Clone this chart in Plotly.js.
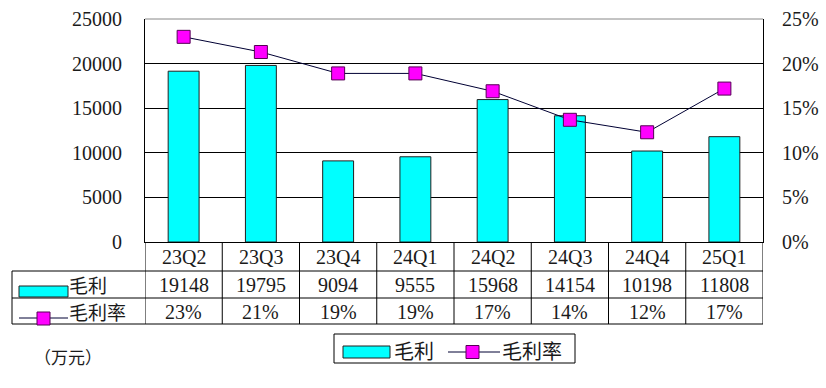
<!DOCTYPE html>
<html>
<head>
<meta charset="utf-8">
<script src="https://cdn.plot.ly/plotly-3.0.1.min.js"></script>
<style>html,body{margin:0;padding:0;background:#fff;}#chart{width:826px;height:388px;}</style>
</head>
<body>
<div id="chart"></div>
<script>
// ---- data ----
const quarters = ["23Q2","23Q3","23Q4","24Q1","24Q2","24Q3","24Q4","25Q1"];
const grossProfit = [19148, 19795, 9094, 9555, 15968, 14154, 10198, 11808];
const grossMarginPct = [23.0, 21.3, 18.9, 18.9, 16.9, 13.7, 12.3, 17.2];
const seriesNames = ["毛利", "毛利率"];
const unitLabel = "（万元）";
const leftTicks = [0, 5000, 10000, 15000, 20000, 25000];
const rightTicks = [0, 5, 10, 15, 20, 25];

// ---- layout helpers ----
const W = 826, H = 388;
const L = 145, R = 763, T = 19, B = 242;
const pw = R - L, ph = B - T;
const px = x => (x - L) / pw;          // pixel x -> paper
const py = y => (B - y) / ph;          // pixel y -> paper

const serif = "Liberation Serif, Times New Roman, Noto Sans CJK SC, serif";
const cjk = "Noto Sans CJK SC, sans-serif";
const txtColor = "#1a1a1a";
const fs = 20;

const traces = [
  {
    type: "bar", name: seriesNames[0], x: quarters, y: grossProfit,
    marker: {color: "#00FFFF", line: {color: "#202020", width: 1}},
    hoverinfo: "x+y"
  },
  {
    type: "scatter", mode: "lines+markers", name: seriesNames[1], x: quarters,
    y: grossMarginPct.map(v => v / 100), yaxis: "y2",
    line: {color: "#000033", width: 1},
    marker: {symbol: "square", size: 13, color: "#FF00FF", line: {color: "#550055", width: 1}}
  }
];

const shapes = [];
const annotations = [];

// top border (gray)
shapes.push({type: "line", xref: "paper", yref: "paper", x0: 0, x1: 1, y0: 1, y1: 1,
  line: {color: "#888888", width: 1}});

// table horizontal lines
const rowLines = [271, 298, 324];
rowLines.forEach(y => shapes.push({type: "line", xref: "paper", yref: "paper",
  x0: px(12), x1: 1, y0: py(y), y1: py(y), line: {color: "#000", width: 1}}));
// table left border
shapes.push({type: "line", xref: "paper", yref: "paper", x0: px(12), x1: px(12),
  y0: py(271), y1: py(324), line: {color: "#000", width: 1}});
// vertical dividers at category boundaries
for (let k = 0; k <= quarters.length; k++) {
  shapes.push({type: "line", xref: "x", yref: "paper", x0: k - 0.5, x1: k - 0.5,
    y0: 0, y1: py(324), line: {color: "#000", width: 1}});
}

// table cells
quarters.forEach((q, i) => {
  annotations.push({xref: "x", yref: "paper", x: q, y: py(257), text: q, showarrow: false,
    xanchor: "center", yanchor: "middle", font: {family: serif, size: fs, color: txtColor}});
  annotations.push({xref: "x", yref: "paper", x: q, y: py(285), text: String(grossProfit[i]), showarrow: false,
    xanchor: "center", yanchor: "middle", font: {family: serif, size: fs, color: txtColor}});
  annotations.push({xref: "x", yref: "paper", x: q, y: py(312), text: Math.round(grossMarginPct[i]) + "%", showarrow: false,
    xanchor: "center", yanchor: "middle", font: {family: serif, size: fs, color: txtColor}});
});

// row headers
shapes.push({type: "rect", xref: "paper", yref: "paper", x0: px(19), x1: px(68), y0: py(286), y1: py(297),
  fillcolor: "#00FFFF", line: {color: "#202020", width: 1}});
annotations.push({xref: "paper", yref: "paper", x: px(67), y: py(284), text: seriesNames[0], showarrow: false,
  xanchor: "left", yanchor: "middle", font: {family: cjk, size: 19, color: txtColor}});
shapes.push({type: "line", xref: "paper", yref: "paper", x0: px(19), x1: px(68), y0: py(318), y1: py(318),
  line: {color: "#000033", width: 1}});
shapes.push({type: "rect", xref: "paper", yref: "paper", x0: px(37), x1: px(50), y0: py(312), y1: py(325),
  fillcolor: "#FF00FF", line: {color: "#550055", width: 1}});
annotations.push({xref: "paper", yref: "paper", x: px(67), y: py(311), text: seriesNames[1], showarrow: false,
  xanchor: "left", yanchor: "middle", font: {family: cjk, size: 19, color: txtColor}});

// unit label
annotations.push({xref: "paper", yref: "paper", x: px(32), y: py(356), text: unitLabel, showarrow: false,
  xanchor: "left", yanchor: "middle", font: {family: cjk, size: 17, color: txtColor}});

// custom legend
shapes.push({type: "rect", xref: "paper", yref: "paper", x0: px(334), x1: px(575), y0: py(334), y1: py(363),
  fillcolor: "rgba(0,0,0,0)", line: {color: "#000", width: 1}});
shapes.push({type: "rect", xref: "paper", yref: "paper", x0: px(343), x1: px(390), y0: py(346), y1: py(358),
  fillcolor: "#00FFFF", line: {color: "#202020", width: 1}});
annotations.push({xref: "paper", yref: "paper", x: px(392), y: py(350), text: seriesNames[0], showarrow: false,
  xanchor: "left", yanchor: "middle", font: {family: cjk, size: 20, color: txtColor}});
shapes.push({type: "line", xref: "paper", yref: "paper", x0: px(448), x1: px(500), y0: py(352), y1: py(352),
  line: {color: "#000033", width: 1}});
shapes.push({type: "rect", xref: "paper", yref: "paper", x0: px(466), x1: px(479), y0: py(345.5), y1: py(358.5),
  fillcolor: "#FF00FF", line: {color: "#550055", width: 1}});
annotations.push({xref: "paper", yref: "paper", x: px(500), y: py(350), text: seriesNames[1], showarrow: false,
  xanchor: "left", yanchor: "middle", font: {family: cjk, size: 20, color: txtColor}});

const layout = {
  width: W, height: H,
  margin: {l: L, r: W - R, t: T, b: H - B, pad: 0},
  paper_bgcolor: "#fff", plot_bgcolor: "#fff",
  showlegend: false,
  bargap: 0.6,
  xaxis: {type: "category", range: [-0.5, quarters.length - 0.5], showticklabels: false,
    showgrid: false, zeroline: false, showline: true, linecolor: "#000", linewidth: 1, ticks: "", fixedrange: true},
  yaxis: {range: [0, 25000], tickvals: leftTicks, ticktext: leftTicks.map(String), showgrid: true,
    gridcolor: "#000", gridwidth: 1, zeroline: false, showline: true, linecolor: "#000", linewidth: 1,
    ticks: "", ticklabelstandoff: 18, tickfont: {family: serif, size: fs, color: txtColor}},
  yaxis2: {range: [0, 0.25], overlaying: "y", side: "right", tickvals: rightTicks.map(v => v / 100),
    ticktext: rightTicks.map(v => v + "%"), showgrid: false, zeroline: false, showline: true,
    linecolor: "#000", linewidth: 1, ticks: "", ticklabelstandoff: 14,
    tickfont: {family: serif, size: fs, color: txtColor}},
  shapes: shapes,
  annotations: annotations
};

Plotly.newPlot("chart", traces, layout, {displayModeBar: false, staticPlot: true});
</script>
</body>
</html>
